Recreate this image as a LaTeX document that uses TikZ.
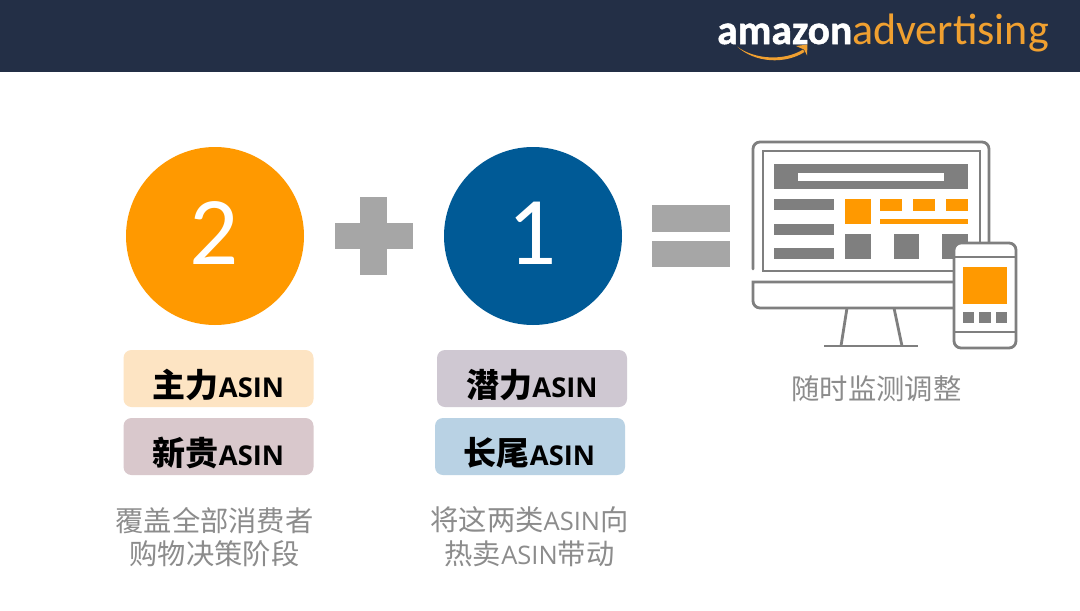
\documentclass[tikz,border=0pt]{standalone}
\usepackage{fontspec}
\setmainfont{Carlito}
\newfontfamily\logofont{Carlito}[BoldFeatures={FakeBold=1.2}]
\newfontfamily\cjk{Noto Sans CJK SC}
\newfontfamily\lat{Open Sans}
\newcommand{\fs}[1]{\fontsize{#1}{#1}\selectfont}
\definecolor{navy}{HTML}{232F46}
\definecolor{amz}{HTML}{F0A030}
\definecolor{orangeF}{HTML}{FF9900}
\definecolor{blueF}{HTML}{005A96}
\definecolor{opgray}{HTML}{A6A6A6}
\definecolor{icongray}{HTML}{7F7F7F}
\definecolor{capgray}{HTML}{8C8C8C}
\definecolor{pillA}{RGB}{253,228,195}
\definecolor{pillB}{RGB}{217,200,204}
\definecolor{pillC}{RGB}{207,200,210}
\definecolor{pillD}{RGB}{185,210,228}
\tikzset{
  x=1pt,y=-1pt,
  disc/.style={circle,draw=none,minimum size=178pt,inner sep=0pt},
  digit/.style={text=white,font=\fs{97}},
  pill/.style={rounded corners=8pt,minimum width=190pt,minimum height=57pt,inner sep=0pt,draw=none},
  pilltext/.style={inner sep=0pt,font=\cjk\bfseries\fs{33}},
  caption/.style={align=center,text=capgray,font=\cjk\fs{28.3},inner sep=0pt},
  icon/.style={draw=icongray,line width=2.8pt,fill=none},
}
\newcommand{\asin}{{\lat\fs{27.3}\bfseries ASIN}}
\begin{document}
\begin{tikzpicture}
\useasboundingbox (0,0) rectangle (1080,611);
\fill[white] (0,0) rectangle (1080,611);
\fill[navy] (0,0) rectangle (1080,72);
% logo
\node[anchor=base west,inner sep=0pt,text=white,font=\logofont\bfseries\fs{41.5}] (amazon) at (717,44) {amazon};
\node[anchor=base west,inner sep=0pt,text=amz,font=\fs{44}] (adv) at (852,44) {advertising};
\fill[amz] (737,46.5) .. controls (755,60) and (785,61) .. (803,49.5) -- (804.5,52) .. controls (785,64.5) and (755,63) .. (737,46.5) -- cycle;
\fill[amz] (796,46) -- (807.5,44.5) -- (807,55.5) -- (804,49.5) -- cycle;
% discs
\node[disc,fill=orangeF] (two) at (215,236) {};
\node[digit] (twot) at (214.5,233) {2};
\node[disc,fill=blueF] (one) at (533,236) {};
\node[digit] (onet) at (532,233) {1};
% operators
\fill[opgray] (360,197) rectangle (387,275);
\fill[opgray] (335,223) rectangle (413,249);
\fill[opgray] (652,205) rectangle (730,232);
\fill[opgray] (652,241) rectangle (730,267);
% pills
\node[pill,fill=pillA] (p1) at (218.5,378.5) {};
\node[pilltext] (t1) at (218.5,385) {主力\asin};
\node[pill,fill=pillB] (p2) at (218.5,446.5) {};
\node[pilltext] (t2) at (218.5,453) {新贵\asin};
\node[pill,fill=pillC] (p3) at (532,378.5) {};
\node[pilltext] (t3) at (532,385) {潜力\asin};
\node[pill,fill=pillD] (p4) at (530,446.5) {};
\node[pilltext] (t4) at (529.5,453) {长尾\asin};
% captions
\node[caption] (c1) at (214.5,521) {覆盖全部消费者};
\node[caption] (c2) at (214.5,554) {购物决策阶段};
\node[caption] (c3) at (529.5,520) {将这两类{\lat\fs{25.5}ASIN}向};
\node[caption] (c4) at (529.5,554) {热卖{\lat\fs{25.5}ASIN}带动};
\node[caption] (c5) at (876.5,389) {随时监测调整};
% monitor
\draw[icon,line cap=round,rounded corners=7pt] (753,269) -- (753,142) -- (989,142) -- (989,244);
\draw[icon,line cap=butt] (980,242) -- (980,151) -- (763,151) -- (763,271) -- (955,271);
\draw[icon] (955,282) -- (753,282) [rounded corners=7pt] -- (753,308) -- (955,308);
\draw[icon] (847,308) -- (841,346);
\draw[icon] (894,308) -- (902,346);
\draw[icon] (824,346) -- (918,346);
\fill[icongray] (774,164) rectangle (968,189);
\fill[white] (798,173) rectangle (944,181);
\fill[icongray] (774,199) rectangle (834,210);
\fill[icongray] (774,224) rectangle (834,235);
\fill[icongray] (774,248) rectangle (834,259);
\fill[orangeF] (845,199) rectangle (871,224);
\fill[orangeF] (880,199) rectangle (902,211);
\fill[orangeF] (913,199) rectangle (935,211);
\fill[orangeF] (946,199) rectangle (968,211);
\fill[orangeF] (880,219) rectangle (968,224);
\fill[icongray] (845,234) rectangle (871,259);
\fill[icongray] (894,234) rectangle (919,259);
\fill[icongray] (942,234) rectangle (968,259);
% phone
\draw[icon,fill=white,rounded corners=7pt] (954,243) rectangle (1016,348);
\draw[icon] (954,257) -- (1016,257);
\draw[icon] (954,332) -- (1016,332);
\fill[orangeF] (963,267) rectangle (1007,304);
\fill[icongray] (963,312) rectangle (974,323);
\fill[icongray] (979,312) rectangle (991,323);
\fill[icongray] (996,312) rectangle (1007,323);
\end{tikzpicture}
\end{document}
